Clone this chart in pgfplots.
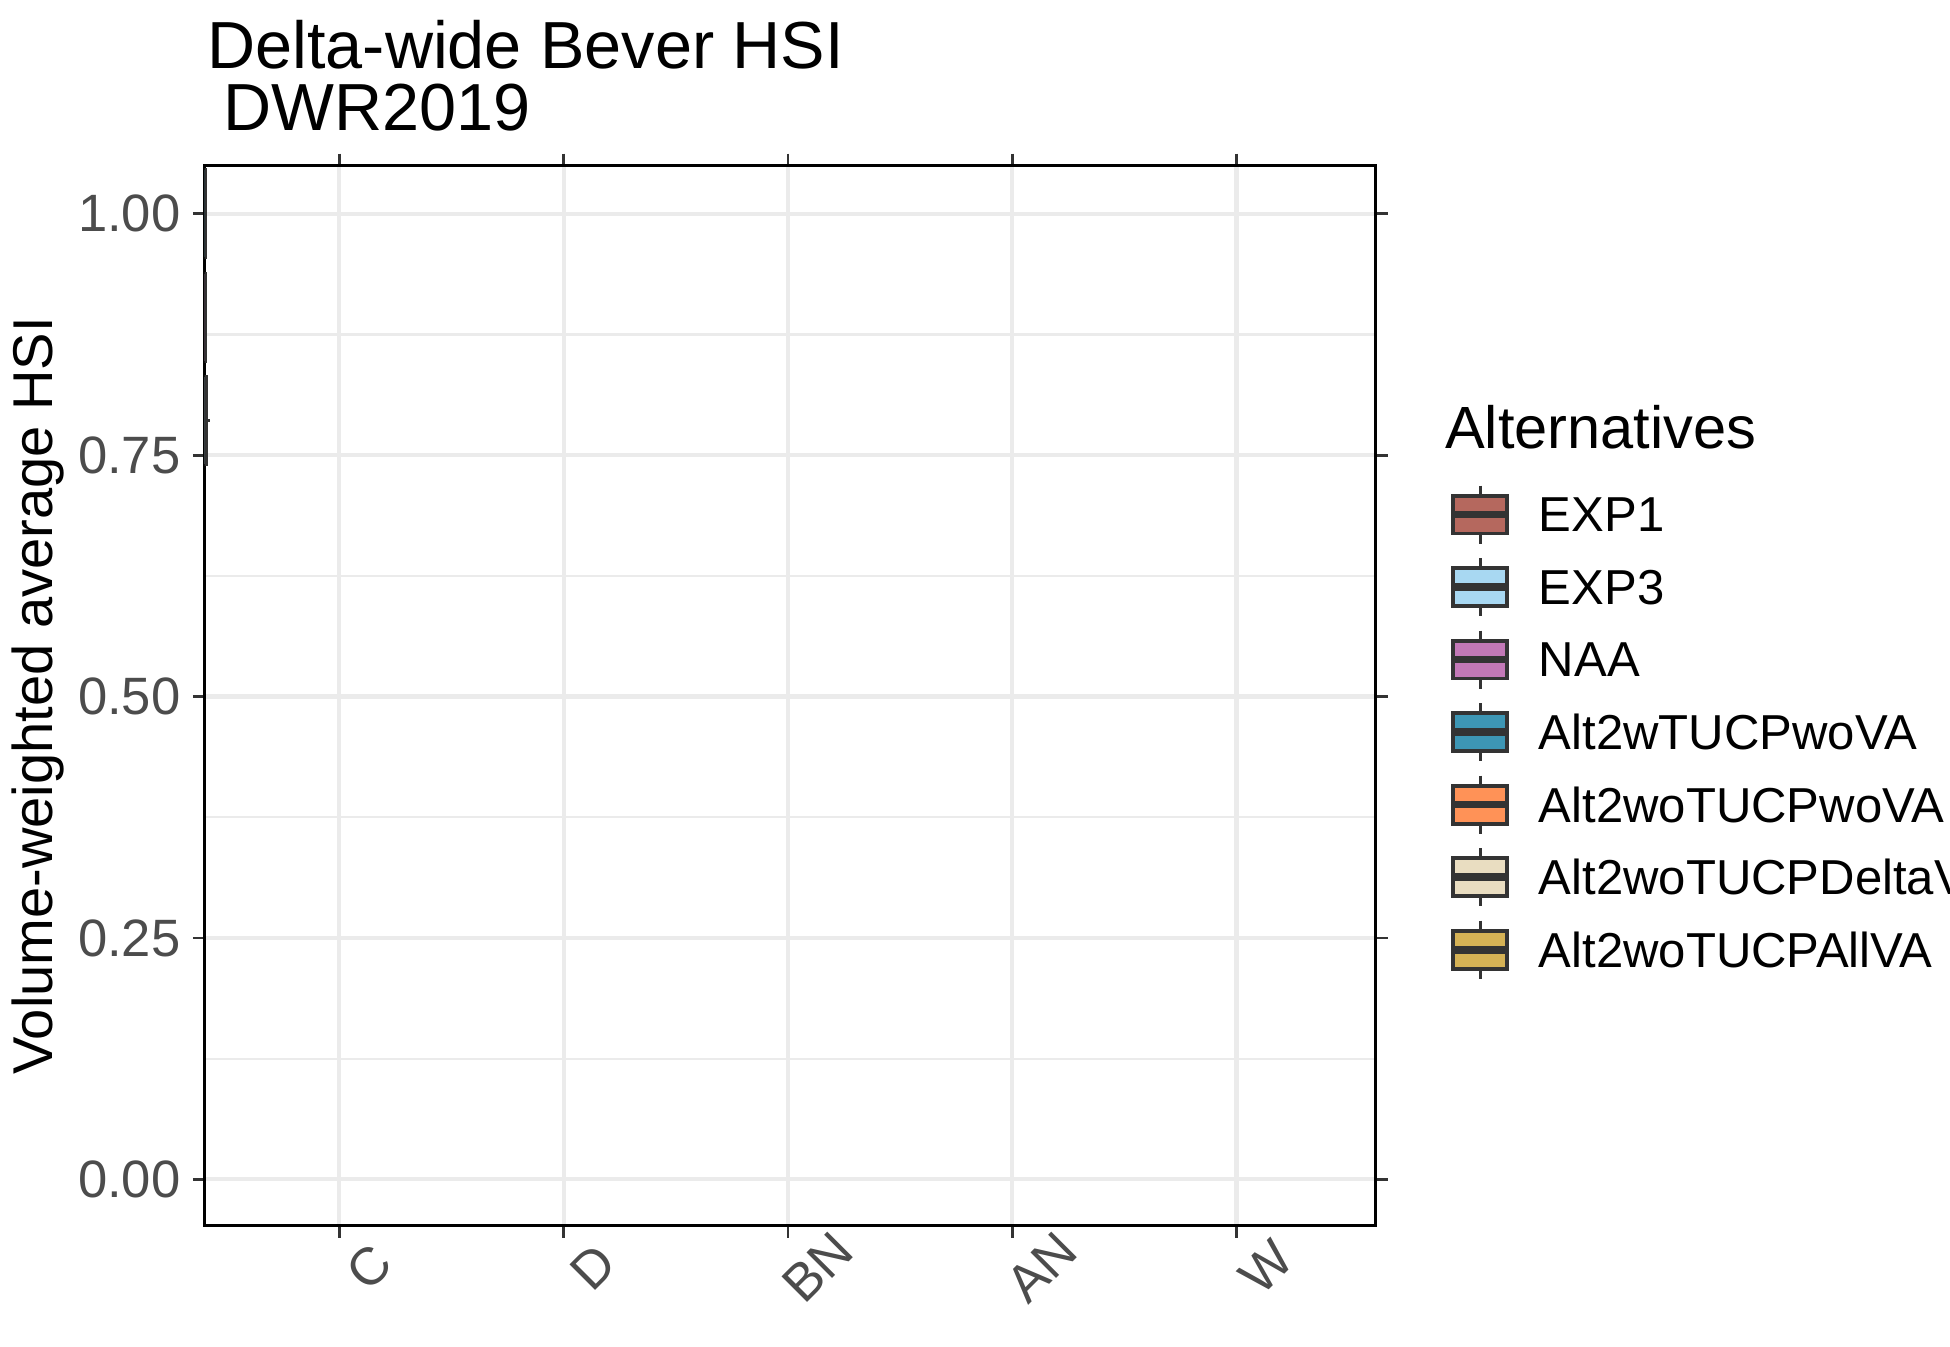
\documentclass[border=0pt]{standalone}
\usepackage{pgfplots}
\pgfplotsset{compat=1.18}
\usepgfplotslibrary{statistics}
\usepackage{fontspec}
\setmainfont{Liberation Sans}
\definecolor{bdr}{HTML}{333333}
\definecolor{cA}{HTML}{B5685E}
\definecolor{cB}{HTML}{A8D8F2}
\definecolor{cC}{HTML}{C278B6}
\definecolor{cD}{HTML}{3D96B4}
\definecolor{cE}{HTML}{FF9257}
\definecolor{cF}{HTML}{E9DDC1}
\definecolor{cG}{HTML}{D5B255}
\definecolor{grd}{HTML}{EBEBEB}
\pgfplotsset{bxs/.style n args={7}{boxplot prepared={draw position=#1, lower whisker=#3, lower quartile=#4, median=#5, upper quartile=#6, upper whisker=#7, box extend=0.09, whisker extend=0}, fill=#2, draw=bdr, line width=1pt, mark=*, mark size=2.3pt, mark options={fill=black!60, draw=black!60, solid}}}
\newcommand{\bx}[7]{\addplot[bxs={#1}{#2}{#3}{#4}{#5}{#6}{#7}] coordinates {};}
\newcommand{\bxo}[8]{\addplot[bxs={#1}{#2}{#3}{#4}{#5}{#6}{#7}] table[row sep=\\,y index=0] {d\\ #8\\};}
\begin{document}
\begin{tikzpicture}
\begin{axis}[name=ax, scale only axis, width=11.74cm, height=10.63cm,
 xmin=0.4, xmax=5.62, ymin=-0.048, ymax=1.05,
 axis line style={draw=black, line width=0.8pt},
 xtick={1,2,3,4,5}, xticklabels={C,D,BN,AN,W},
 ytick={0,0.25,0.5,0.75,1}, minor ytick={0.125,0.375,0.625,0.875},
 yticklabels={0.00,0.25,0.50,0.75,1.00},
 grid=both, major grid style={grd, line width=1.2pt}, minor grid style={grd, line width=0.6pt},
 tick align=outside, major tick length=0.12cm, minor tick length=0pt,
 tick style={bdr, line width=0.8pt},
 ticklabel style={font=\fontsize{15}{15}\selectfont, text=black!70},
 xticklabel style={rotate=45, anchor=center, yshift=-0.42cm},
 ylabel={Volume-weighted average HSI}, ylabel style={font=\fontsize{16}{16}\selectfont, yshift=-0.1cm},
 boxplot/every median/.style={draw=bdr, line width=2.4pt},
 boxplot/every whisker/.style={draw=bdr, line width=1.1pt},
 boxplot/every box/.style={draw=bdr, line width=1.1pt},
]
% C
\bx{0.679}{cA}{0.311}{0.335}{0.340}{0.354}{0.372}
\bx{0.786}{cB}{0.375}{0.385}{0.393}{0.404}{0.425}
\bx{0.893}{cC}{0.356}{0.382}{0.386}{0.403}{0.410}
\bx{1.000}{cD}{0.356}{0.383}{0.388}{0.403}{0.410}
\bx{1.107}{cE}{0.352}{0.382}{0.395}{0.412}{0.453}
\bx{1.214}{cF}{0.352}{0.372}{0.395}{0.412}{0.455}
\bx{1.321}{cG}{0.354}{0.378}{0.396}{0.412}{0.460}
% D
\bx{1.679}{cA}{0.345}{0.360}{0.380}{0.412}{0.460}
\bx{1.786}{cB}{0.420}{0.425}{0.462}{0.490}{0.585}
\bxo{1.893}{cC}{0.360}{0.412}{0.420}{0.460}{0.490}{0.588}
\bxo{2.000}{cD}{0.360}{0.410}{0.418}{0.458}{0.490}{0.588}
\bxo{2.107}{cE}{0.360}{0.412}{0.418}{0.458}{0.490}{0.588}
\bxo{2.214}{cF}{0.360}{0.412}{0.420}{0.457}{0.488}{0.585}
\bxo{2.321}{cG}{0.360}{0.413}{0.420}{0.457}{0.488}{0.583}
% BN
\bx{2.679}{cA}{0.325}{0.350}{0.365}{0.385}{0.415}
\bx{2.786}{cB}{0.415}{0.425}{0.460}{0.465}{0.475}
\bx{2.893}{cC}{0.390}{0.420}{0.455}{0.520}{0.560}
\bx{3.000}{cD}{0.390}{0.418}{0.455}{0.513}{0.540}
\bx{3.107}{cE}{0.390}{0.418}{0.455}{0.513}{0.540}
\bx{3.214}{cF}{0.395}{0.422}{0.457}{0.513}{0.540}
\bx{3.321}{cG}{0.398}{0.422}{0.457}{0.515}{0.540}
% AN
\bxo{3.679}{cA}{0.378}{0.388}{0.413}{0.429}{0.429}{0.492\\ 0.607}
\bxo{3.786}{cB}{0.438}{0.449}{0.478}{0.502}{0.505}{0.580\\ 0.622}
\bxo{3.893}{cC}{0.456}{0.476}{0.516}{0.520}{0.577}{0.607}
\bxo{4.000}{cD}{0.450}{0.481}{0.512}{0.523}{0.573}{0.601}
\bxo{4.107}{cE}{0.450}{0.481}{0.512}{0.523}{0.573}{0.600}
\bxo{4.214}{cF}{0.450}{0.478}{0.512}{0.523}{0.579}{0.609}
\bxo{4.321}{cG}{0.453}{0.480}{0.516}{0.526}{0.584}{0.609}
% W
\bx{4.679}{cA}{0.342}{0.359}{0.378}{0.414}{0.475}
\bx{4.786}{cB}{0.400}{0.414}{0.442}{0.473}{0.498}
\bx{4.893}{cC}{0.428}{0.449}{0.462}{0.514}{0.599}
\bx{5.000}{cD}{0.426}{0.444}{0.461}{0.505}{0.596}
\bx{5.107}{cE}{0.426}{0.443}{0.461}{0.503}{0.589}
\bx{5.214}{cF}{0.426}{0.447}{0.461}{0.506}{0.596}
\bx{5.321}{cG}{0.428}{0.445}{0.461}{0.506}{0.596}
\end{axis}
\path[use as bounding box] ([shift={(-2.0cm,-1.21cm)}]ax.south west) coordinate (O) rectangle ++(19.5cm,13.5cm);
\coordinate (T) at ([yshift=13.5cm]O);
\node[anchor=base west, inner sep=0pt, font=\fontsize{19}{19}\selectfont] at ([shift={(2.02cm,-0.69cm)}]T) {Delta-wide Bever HSI};
\node[anchor=base west, inner sep=0pt, font=\fontsize{19}{19}\selectfont] at ([shift={(2.18cm,-1.31cm)}]T) {DWR2019};
\node[anchor=base west, inner sep=0pt, font=\fontsize{17}{17}\selectfont] at ([shift={(14.43cm,-4.50cm)}]T) {Alternatives};
\foreach \c/\t [count=\i] in {cA/EXP1,cB/EXP3,cC/NAA,cD/Alt2wTUCPwoVA,cE/Alt2woTUCPwoVA,cF/Alt2woTUCPDeltaVA,cG/Alt2woTUCPAllVA}{
  \pgfmathsetmacro{\yy}{-5.16-0.727*(\i-1)}
  \draw[bdr, line width=1pt] ([shift={(14.79cm,\yy cm+0.29cm)}]T) -- ++(0,-0.58cm);
  \draw[bdr, line width=1.1pt, fill=\c] ([shift={(14.52cm,\yy cm-0.19cm)}]T) rectangle ++(0.54cm,0.38cm);
  \draw[bdr, line width=2.2pt] ([shift={(14.52cm,\yy cm)}]T) -- ++(0.54cm,0);
  \node[anchor=west, inner sep=0pt, font=\fontsize{14}{14}\selectfont] at ([shift={(15.37cm,\yy cm)}]T) {\t};
}
\end{tikzpicture}
\end{document}
